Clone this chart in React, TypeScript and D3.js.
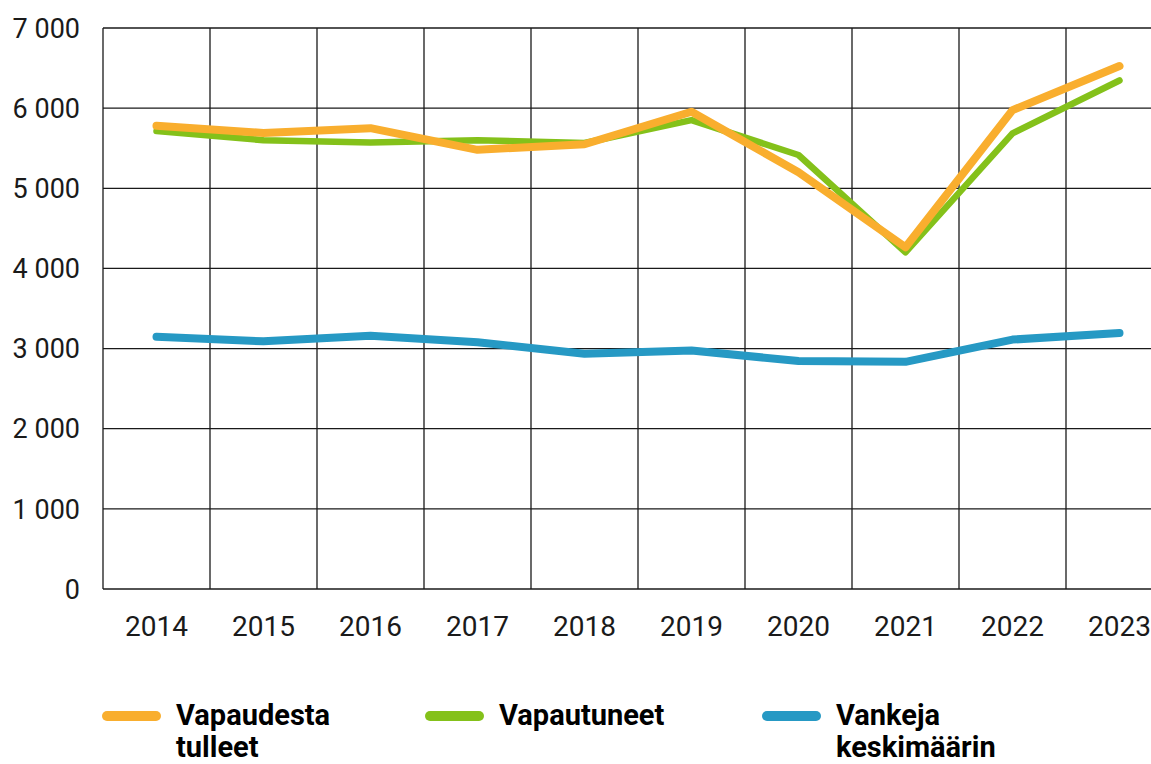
import { useMemo } from 'react';
import * as d3 from 'd3';

// Kuvaajan data: vapautuneet ja vangit vuosittain
const YEARS = ['2014', '2015', '2016', '2017', '2018', '2019', '2020', '2021', '2022', '2023'];
const VAPAUDESTA_TULLEET = [5780, 5690, 5750, 5480, 5550, 5955, 5200, 4265, 5975, 6525];
const VAPAUTUNEET = [5715, 5600, 5570, 5600, 5565, 5850, 5415, 4200, 5685, 6345];
const VANKEJA = [3146, 3090, 3160, 3080, 2935, 2975, 2845, 2835, 3112, 3195];
const Y_TICKS = [0, 1000, 2000, 3000, 4000, 5000, 6000, 7000];

const SERIES = [
  { name: ['Vapaudesta', 'tulleet'], values: VAPAUDESTA_TULLEET, color: '#f9ae2e', width: 8 },
  { name: ['Vapautuneet'], values: VAPAUTUNEET, color: '#84c11a', width: 6.5 },
  { name: ['Vankeja', 'keskimäärin'], values: VANKEJA, color: '#2699c4', width: 8 },
];

const WIDTH = 1151;
const HEIGHT = 764;
const MARGIN = { top: 28, left: 103, bottom: 175 };
const BAND = 107;
const FONT = 'Roboto, "Noto Sans", sans-serif';

const fmt = (v: number) => d3.format(',')(v).replace(/,/g, ' ');

export default function App() {
  const innerHeight = HEIGHT - MARGIN.top - MARGIN.bottom;

  const x = useMemo(
    () =>
      d3
        .scaleBand<string>()
        .domain(YEARS)
        .range([MARGIN.left, MARGIN.left + BAND * YEARS.length]),
    []
  );

  const y = useMemo(
    () => d3.scaleLinear().domain([0, 7000]).range([MARGIN.top + innerHeight, MARGIN.top]),
    [innerHeight]
  );

  const line = d3
    .line<number>()
    .x((_, i) => (x(YEARS[i]) as number) + x.bandwidth() / 2)
    .y((d) => y(d));

  const legendX = [102, 425, 762];

  return (
    <svg
      width={WIDTH}
      height={HEIGHT}
      style={{ position: 'absolute', left: 0, top: 0, background: '#fff' }}
    >
      {/* vaakasuorat apuviivat */}
      {Y_TICKS.map((t) => (
        <g key={t}>
          <line
            x1={MARGIN.left}
            x2={WIDTH}
            y1={y(t)}
            y2={y(t)}
            stroke="#1a1a1a"
            strokeWidth={1.3}
          />
          <text
            x={80}
            y={y(t)}
            dy="0.36em"
            textAnchor="end"
            fontFamily={FONT}
            fontSize={27}
            fill="#1a1a1a"
          >
            {fmt(t)}
          </text>
        </g>
      ))}

      {/* pystysuorat apuviivat kategorioiden välissä */}
      {YEARS.map((yr) => (
        <line
          key={yr}
          x1={x(yr) as number}
          x2={x(yr) as number}
          y1={y(7000)}
          y2={y(0)}
          stroke="#1a1a1a"
          strokeWidth={1.3}
        />
      ))}

      {YEARS.map((yr) => (
        <text
          key={`${yr}-label`}
          x={(x(yr) as number) + x.bandwidth() / 2}
          y={636}
          textAnchor="middle"
          fontFamily={FONT}
          fontSize={28}
          fill="#1a1a1a"
        >
          {yr}
        </text>
      ))}

      {[...SERIES].reverse().map((s) => (
        <path
          key={s.name[0]}
          d={line(s.values) ?? ''}
          fill="none"
          stroke={s.color}
          strokeWidth={s.width}
          strokeLinecap="round"
          strokeLinejoin="round"
        />
      ))}

      {SERIES.map((s, i) => (
        <g key={`${s.name[0]}-legend`} transform={`translate(${legendX[i]},0)`}>
          <line
            x1={5}
            x2={54}
            y1={716}
            y2={716}
            stroke={s.color}
            strokeWidth={10}
            strokeLinecap="round"
          />
          {s.name.map((n, j) => (
            <text
              key={n}
              x={74}
              y={725 + j * 32}
              fontFamily={FONT}
              fontWeight="bold"
              fontSize={29}
              fill="#000"
            >
              {n}
            </text>
          ))}
        </g>
      ))}
    </svg>
  );
}
